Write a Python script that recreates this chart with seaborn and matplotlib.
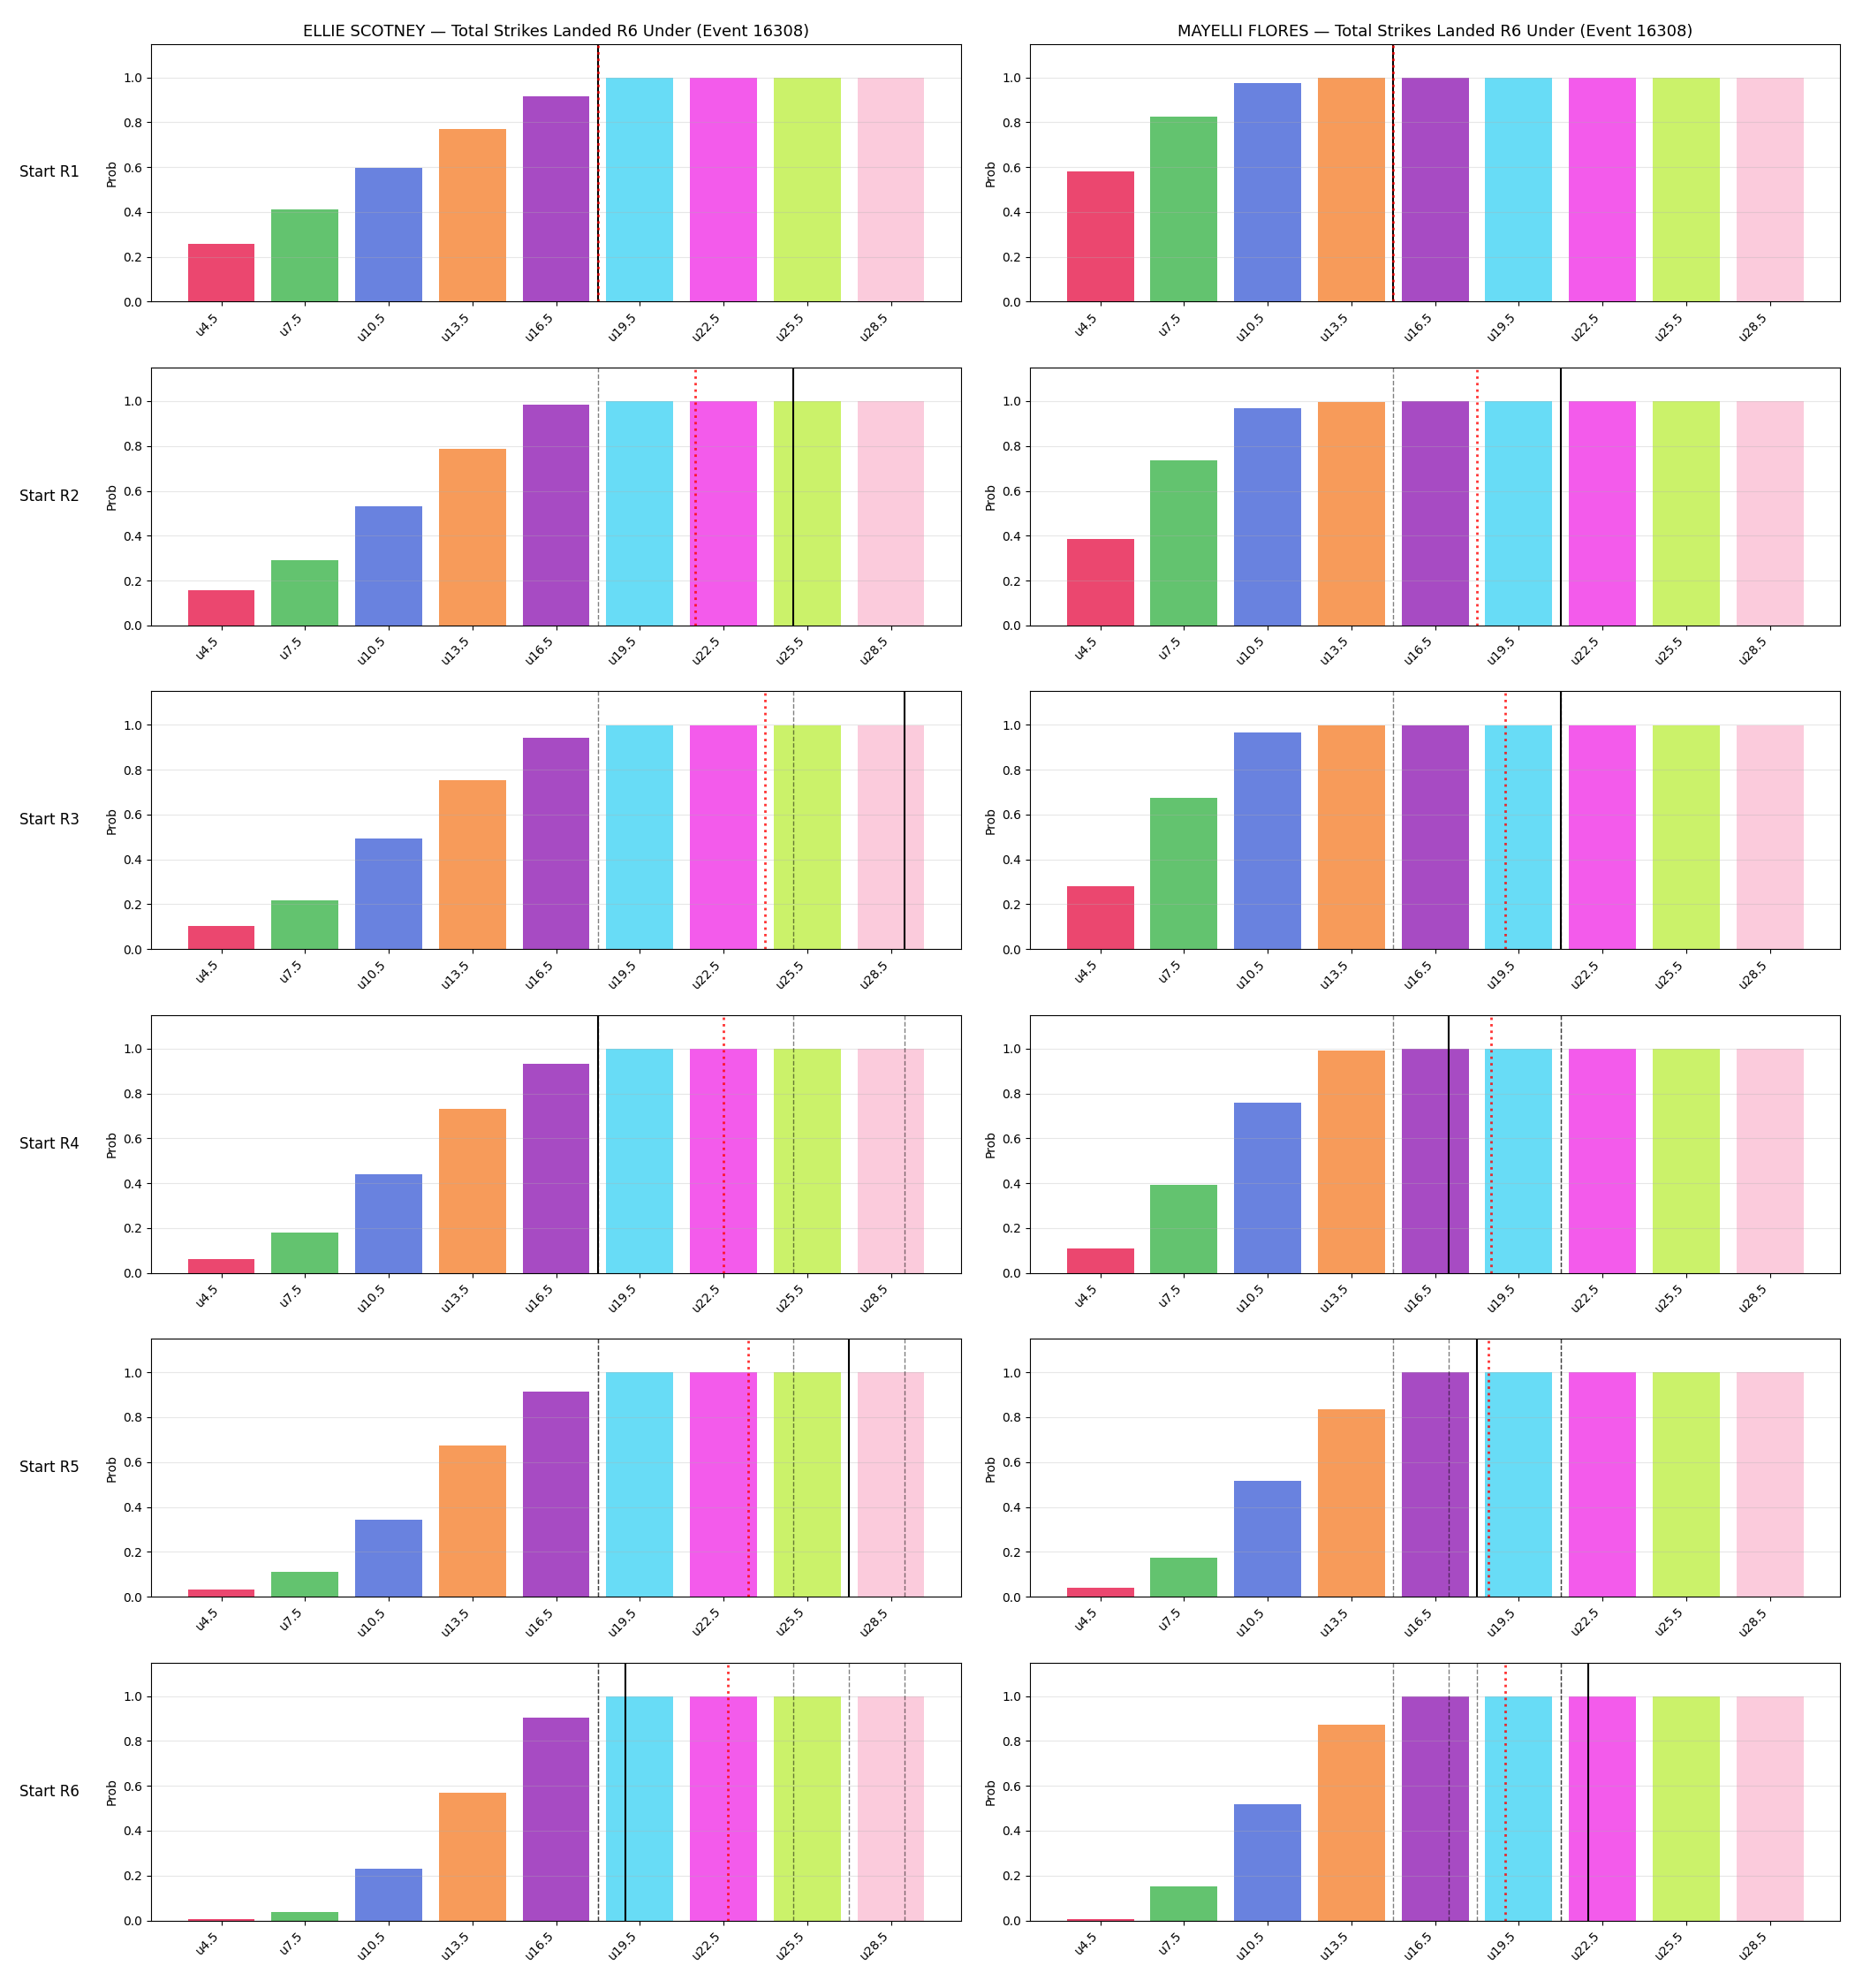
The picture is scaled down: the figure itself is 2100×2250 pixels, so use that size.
import matplotlib
matplotlib.use("Agg")
import matplotlib.pyplot as plt
import numpy as np
import pandas as pd
import seaborn as sns

# under lines shown on the x axis
thresholds = [4.5, 7.5, 10.5, 13.5, 16.5, 19.5, 22.5, 25.5, 28.5]
labels = ["u4.5", "u7.5", "u10.5", "u13.5", "u16.5", "u19.5", "u22.5", "u25.5", "u28.5"]
colors = ["#e6194b", "#3cb44b", "#4363d8", "#f58231", "#911eb4",
          "#42d4f4", "#f032e6", "#bfef45", "#fabed4"]

fighters = ["ELLIE SCOTNEY", "MAYELLI FLORES"]
start_rounds = ["Start R1", "Start R2", "Start R3", "Start R4", "Start R5", "Start R6"]

# P(under) per start round, one row per round
ellie_probs = [
    [0.259, 0.411, 0.598, 0.770, 0.914, 0.999, 0.999, 0.999, 0.999],
    [0.159, 0.289, 0.532, 0.786, 0.985, 0.999, 0.999, 0.999, 0.999],
    [0.102, 0.218, 0.492, 0.755, 0.942, 0.999, 0.999, 0.999, 0.999],
    [0.063, 0.178, 0.438, 0.730, 0.933, 0.999, 0.999, 0.999, 0.999],
    [0.032, 0.110, 0.345, 0.675, 0.916, 0.999, 0.999, 0.999, 0.999],
    [0.004, 0.038, 0.229, 0.570, 0.905, 0.999, 0.999, 0.999, 0.999],
]
mayelli_probs = [
    [0.582, 0.826, 0.973, 0.997, 0.999, 0.999, 0.999, 0.999, 0.999],
    [0.385, 0.735, 0.970, 0.997, 0.999, 0.999, 0.999, 0.999, 0.999],
    [0.279, 0.676, 0.967, 0.997, 0.999, 0.999, 0.999, 0.999, 0.999],
    [0.109, 0.394, 0.758, 0.993, 0.999, 0.999, 0.999, 0.999, 0.999],
    [0.038, 0.174, 0.516, 0.834, 0.999, 0.999, 0.999, 0.999, 0.999],
    [0.004, 0.150, 0.516, 0.874, 0.999, 0.999, 0.999, 0.999, 0.999],
]

# strikes landed marker per round (solid) and running average (red dotted)
ellie_landed = [18, 25, 29, 18, 27, 19]
ellie_avg = [18.0, 21.5, 24.0, 22.5, 23.4, 22.67]
mayelli_landed = [15, 21, 21, 17, 18, 22]
mayelli_avg = [15.0, 18.0, 19.0, 18.5, 18.4, 19.0]

series = [
    (fighters[0], ellie_probs, ellie_landed, ellie_avg),
    (fighters[1], mayelli_probs, mayelli_landed, mayelli_avg),
]

fig, axes = plt.subplots(6, 2, figsize=(21, 22.5), dpi=100)
fig.subplots_adjust(left=0.0814, right=0.992, top=0.978, bottom=0.034,
                    wspace=0.085, hspace=0.255)

for r in range(6):
    for c, (name, probs, landed, avg) in enumerate(series):
        ax = axes[r, c]
        df = pd.DataFrame({"line": thresholds, "label": labels, "prob": probs[r]})
        sns.barplot(data=df, x="line", y="prob", hue="label", palette=colors,
                    native_scale=True, dodge=False, legend=False, alpha=0.8,
                    saturation=1, errorbar=None, ax=ax)

        # earlier rounds as faint dashed lines
        for v in landed[:r]:
            ax.axvline(v, color="k", ls="--", lw=1, alpha=0.5)
        ax.axvline(landed[r], color="k", lw=1.5)
        ax.axvline(avg[r], color="red", ls=":", lw=2, alpha=0.8)

        ax.set_xticks(thresholds)
        ax.set_xticklabels(labels, rotation=45, ha="right")
        ax.set_ylim(0, 1.15)
        ax.set_xlabel("")
        ax.set_ylabel("Prob")
        ax.grid(axis="y", alpha=0.3)
        ax.xaxis.grid(False)

        if r == 0:
            ax.set_title(f"{name} — Total Strikes Landed R6 Under (Event 16308)",
                         fontsize=13)
        if c == 0:
            ax.text(-0.088, 0.5, start_rounds[r], transform=ax.transAxes,
                    ha="right", va="center", fontsize=12)

plt.savefig("out.png", dpi=100)
plt.close()
